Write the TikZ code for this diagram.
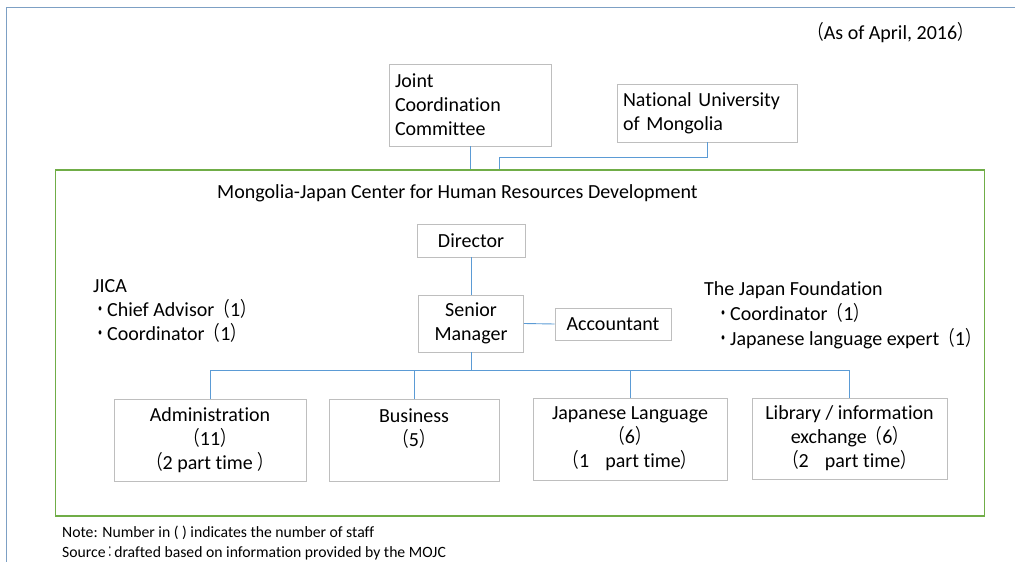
\documentclass[tikz,border=0pt]{standalone}
\usepackage{fontspec}
\usepackage{graphicx}
\setmainfont{Carlito}[Ligatures=NoCommon]
\newfontfamily\cjk{Noto Sans CJK JP}
\newcommand{\lpar}{\scalebox{0.78}[1]{\cjk （}}
\newcommand{\rpar}{\scalebox{0.78}[1]{\cjk ）}}
\newcommand{\bul}{\scalebox{0.7}[1]{\cjk ・}}
\newcommand{\fcolon}{\scalebox{0.55}[1]{\cjk ：}}
\definecolor{framec}{RGB}{125,160,196}
\definecolor{linec}{RGB}{91,155,213}
\definecolor{greenc}{RGB}{112,173,71}
\definecolor{boxc}{RGB}{190,190,190}
\begin{document}
\begin{tikzpicture}[x=1pt,y=-1pt,
  every node/.style={font=\fontsize{20}{24}\selectfont, text=black},
  orgbox/.style={draw=boxc, line width=0.9pt, fill=white, align=center, inner sep=2pt},
  conn/.style={draw=linec, line width=0.9pt},
  plain/.style={align=left, inner sep=0pt},
  small/.style={font=\fontsize{15.7}{20}\selectfont, inner sep=0pt, anchor=west}]
\useasboundingbox (0,0) rectangle (1015,562);
% outer frame (partially visible)
\draw[framec, line width=1.4pt] (6.5,562) -- (6.5,7.5) -- (1015,7.5);

\node[anchor=east, inner sep=0pt] (asof) at (973,33) {\lpar As of April, 2016\rpar};

% top boxes
\node[orgbox, minimum width=162, minimum height=82, text width=150, align=left] (jcc) at (470,105) {Joint\\Coordination\\Committee};
\node[orgbox, minimum width=180, minimum height=58, text width=168, align=left] (num) at (707,113) {National University\\of Mongolia};

% green center box
\node[draw=greenc, line width=1.2pt, minimum width=928.8, minimum height=346, inner sep=0pt] (center) at (520.1,343) {};
\node[anchor=west, inner sep=0pt] (title) at (217,193) {Mongolia-Japan Center for Human Resources Development};

\node[orgbox, minimum width=108, minimum height=33] (dir) at (471,240.5) {Director};
\node[orgbox, minimum width=105, minimum height=57] (sm) at (471,323.5) {Senior\\Manager};
\node[orgbox, minimum width=116, minimum height=32] (acc) at (613,324) {Accountant};

\node[plain, anchor=west] (jica) at (93,311) {JICA\\\bul Chief Advisor\lpar 1\rpar\\\bul Coordinator\lpar 1\rpar};
\node[plain, anchor=west, font=\fontsize{20}{25}\selectfont] (jf) at (704,315) {The Japan Foundation\\\hspace{12pt}\bul Coordinator\lpar 1\rpar\\\hspace{12pt}\bul Japanese language expert\lpar 1\rpar};

\node[orgbox, minimum width=192, minimum height=82] (adm) at (210,440) {Administration\\\lpar 11\rpar\\\lpar 2 part time \rpar};
\node[orgbox, minimum width=170, minimum height=82] (biz) at (414,440) {Business\\\lpar 5\rpar\\\phantom{x}};
\node[orgbox, minimum width=194, minimum height=82] (jl) at (630,439) {Japanese Language\\\lpar 6\rpar\\\lpar 1\hspace{0.8em}part time\rpar};
\node[orgbox, minimum width=195, minimum height=81] (lib) at (849.5,438.5) {Library / information\\exchange\lpar 6\rpar\\\lpar 2\hspace{0.8em}part time\rpar};

% connectors
\coordinate (numj) at (499,157);
\coordinate (bus) at (471,370.5);
\draw[conn] (jcc.south) -- (jcc.south |- center.north);
\draw[conn] (num.south) |- (numj) -- (numj |- center.north);
\draw[conn] (dir.south) -- (sm.north);
\draw[conn] (sm.east) -- (acc.west);
\draw[conn] (sm.south) -- (bus);
\draw[conn] (adm.north) |- (bus) -| (lib.north);
\draw[conn] (biz.north) -- (biz.north |- bus);
\draw[conn] (jl.north) -- (jl.north |- bus);

\node[small] (note) at (62,533) {Note: Number in ( ) indicates the number of staff};
\node[small] (src) at (62,553) {Source\fcolon drafted based on information provided by the MOJC};
\end{tikzpicture}
\end{document}
